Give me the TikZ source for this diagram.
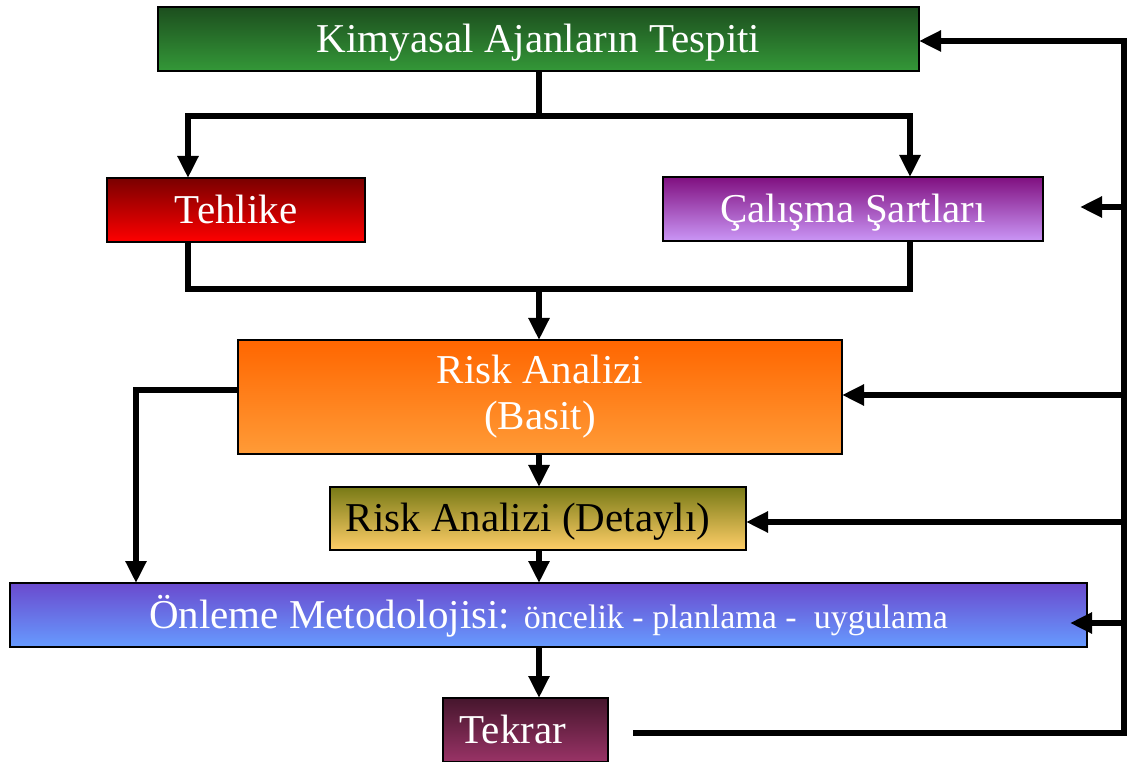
\documentclass[tikz,border=0pt]{standalone}
\usepackage{fontspec}
\setmainfont{Liberation Serif}
\usetikzlibrary{arrows.meta}
\definecolor{kimT}{RGB}{28,78,30}\definecolor{kimB}{RGB}{52,152,56}
\definecolor{tehT}{RGB}{122,0,0}\definecolor{tehB}{RGB}{255,0,0}
\definecolor{calT}{RGB}{128,16,128}\definecolor{calB}{RGB}{202,150,246}
\definecolor{basT}{RGB}{255,102,0}\definecolor{basB}{RGB}{255,155,55}
\definecolor{detT}{RGB}{120,122,22}\definecolor{detB}{RGB}{255,206,104}
\definecolor{onlT}{RGB}{106,74,206}\definecolor{onlB}{RGB}{102,155,255}
\definecolor{tekT}{RGB}{70,22,45}\definecolor{tekB}{RGB}{153,51,102}
\tikzset{
  box/.style={draw=black, line width=0.9pt, inner sep=0pt, outer sep=0pt,
    text=white, align=center, font=\fontsize{30.75pt}{34.5pt}\selectfont},
  oneline/.style={box, text height=26pt, text depth=6pt},
  conn/.style={line width=5pt, line join=miter},
  arr/.style={conn, -{Triangle[length=16.5pt,width=15pt]}}
}
\begin{document}
\begin{tikzpicture}[x=0.75pt,y=-0.75pt]
\useasboundingbox (0,0) rectangle (1131,762);
% boxes
\node[oneline, minimum width=570.75pt, minimum height=48pt, top color=kimT, bottom color=kimB] (kim) at (538.5,39) {Kimyasal Ajanların Tespiti};
\node[oneline, minimum width=193.5pt, minimum height=48pt, top color=tehT, bottom color=tehB] (teh) at (236,210) {Tehlike};
\node[oneline, minimum width=285pt, minimum height=48pt, top color=calT, bottom color=calB] (cal) at (853,209) {Çalışma Şartları};
\node[box, minimum width=453pt, minimum height=85.5pt, top color=basT, bottom color=basB] (bas) at (540,397) {Risk Analizi\\(Basit)};
\node[oneline, minimum width=312pt, minimum height=47.25pt, top color=detT, bottom color=detB, text=black] (det) at (538,518.5) {Risk Analizi (Detaylı)\kern15pt};
\node[oneline, minimum width=807.75pt, minimum height=48pt, top color=onlT, bottom color=onlB] (onl) at (548.5,615) {Önleme Metodolojisi: {\fontsize{25.5pt}{30pt}\selectfont öncelik - planlama - \ uygulama}};
\node[oneline, minimum width=123.75pt, minimum height=48pt, top color=tekT, bottom color=tekB] (tek) at (525.5,730) {Tekrar\kern19pt};
% coordinates
\coordinate (busA) at (539,116);
\coordinate (busAL) at (188,116);
\coordinate (busAR) at (910,116);
\coordinate (busBL) at (188,289);
\coordinate (busBR) at (910,289);
\coordinate (busB) at (539,289);
\coordinate (lb) at (136,390);
\coordinate (tekR) at (633,733);
\coordinate (rT) at (1124,733);
\coordinate (r0) at (1124,41);
\coordinate (rc) at (1124,207);
\coordinate (cend) at (1080,207);
\coordinate (rb) at (1124,395);
\coordinate (rd) at (1124,522);
\coordinate (ro) at (1124,623);
\coordinate (oend) at (1070,623);
% top split
\draw[conn] (busA |- kim.south) -- (busA);
\draw[arr] (busA) -| (busAL |- teh.north);
\draw[arr] (busA) -| (busAR |- cal.north);
% merge
\draw[conn] (busAL |- teh.south) -- (busBL) -- (busBR) -- (busAR |- cal.south);
\draw[arr] (busB) -- (busB |- bas.north);
% chain
\draw[arr] (busB |- bas.south) -- (busB |- det.north);
\draw[arr] (busB |- det.south) -- (busB |- onl.north);
\draw[arr] (busB |- onl.south) -- (busB |- tek.north);
% left bypass
\draw[arr] (bas.west |- lb) -- (lb) -- (lb |- onl.north);
% feedback loop
\draw[arr] (tekR) -- (rT) -- (r0) -- (kim.east |- r0);
\draw[arr] (rc) -- (cend);
\draw[arr] (rb) -- (bas.east |- rb);
\draw[arr] (rd) -- (det.east |- rd);
\draw[arr] (ro) -- (oend);
\end{tikzpicture}
\end{document}
